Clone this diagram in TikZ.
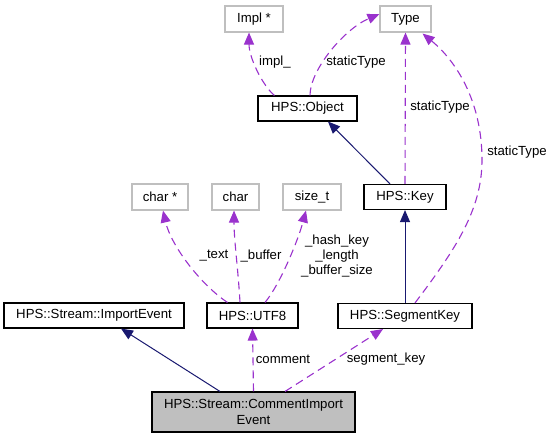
\documentclass[tikz,border=0pt]{standalone}
\usepackage{fontspec}
\setmainfont{Liberation Sans}
\usetikzlibrary{arrows.meta,calc}
\definecolor{dep}{HTML}{9A32CD}
\definecolor{inh}{HTML}{191970}
\definecolor{gbox}{HTML}{BFBFBF}
\tikzset{
  cls/.style={draw=black,line width=1.1pt,minimum height=25pt,inner sep=0pt,font=\fontsize{13.2}{15}\selectfont,fill=white},
  ext/.style={draw=gbox,line width=1.1pt,minimum height=26pt,inner sep=0pt,font=\fontsize{13.2}{15}\selectfont,fill=white},
  depline/.style={draw=dep,line width=1.1pt,dash pattern=on 8pt off 5pt,-{Triangle[length=12pt,width=10pt,fill=dep]}},
  inhline/.style={draw=inh,line width=1pt,-{Triangle[length=12pt,width=10pt,fill=inh]}},
  lbl/.style={font=\fontsize{13.2}{15}\selectfont,inner sep=0pt,align=center}
}
\begin{document}
\begin{tikzpicture}[x=1pt,y=-1pt]
\useasboundingbox (0,0) rectangle (553,439);
% nodes
\node[ext,minimum width=58pt] (impl) at (254,19) {Impl *};
\node[ext,minimum width=51pt] (type) at (405.5,19) {Type};
\node[cls,minimum width=99pt] (object) at (307.5,108.5) {HPS::Object};
\node[cls,minimum width=82pt] (key) at (405,197) {HPS::Key};
\node[ext,minimum width=58pt] (sizet) at (312,197) {size\_t};
\node[ext,minimum width=56pt] (charp) at (160,197) {char *};
\node[ext,minimum width=47pt] (char) at (235.5,197) {char};
\node[cls,minimum width=180pt] (importevent) at (94,315.5) {HPS::Stream::ImportEvent};
\node[cls,minimum width=91pt] (utf8) at (252.5,315.5) {HPS::UTF8};
\node[cls,minimum width=134pt] (segkey) at (405,316) {HPS::SegmentKey};
\node[cls,fill=gbox,minimum width=203pt,minimum height=40pt,align=center,font=\fontsize{13.2}{16}\selectfont] (cie) at (253.5,412) {HPS::Stream::CommentImport\\Event};
% edges
\draw[depline] ([xshift=17pt]object.north west) .. controls +(-12,-10) and +(0,25) .. ([xshift=-5pt]impl.south);
\node[lbl] (limpl) at (275,62) {impl\_};
\draw[depline] ([xshift=2.5pt]object.north) .. controls +(0,-26) and +(-35,15) .. ([yshift=5pt]type.west);
\node[lbl] (lst1) at (356,62) {staticType};
\draw[depline] (key.north) -- (type.south);
\node[lbl] (lst2) at (440,107) {staticType};
\draw[depline] ([xshift=10pt]segkey.north) .. controls (455,250) and (482,210) .. (482,160) .. controls (482,100) and (455,60) .. ([xshift=17pt,yshift=-1pt]type.south);
\node[lbl] (lst3) at (517,152) {staticType};
\draw[inhline] ([xshift=-15pt]key.north) -- ([xshift=20.5pt]object.south);
\draw[inhline] (segkey.north) -- (key.south);
\draw[depline] ([xshift=-25pt]utf8.north) .. controls +(-27,-18) and +(8,35) .. ([xshift=3pt]charp.south);
\node[lbl] (ltext) at (214,256) {\_text};
\draw[depline] ([xshift=-12.5pt]utf8.north) .. controls +(-2,-35) and +(0,30) .. ([xshift=-1.5pt]char.south);
\node[lbl] (lbuf) at (261,256) {\_buffer};
\draw[depline] ([xshift=12.5pt]utf8.north) .. controls +(15,-18) and +(-8,30) .. ([xshift=-6pt]sizet.south);
\node[lbl] (lhash) at (337,256) {\_hash\_key\\\_length\\\_buffer\_size};
\draw[inhline] ([xshift=-33.5pt]cie.north) -- ([xshift=27pt]importevent.south);
\draw[depline] (cie.north) -- (utf8.south);
\node[lbl] (lcomment) at (283,359) {comment};
\draw[depline] ([xshift=31.5pt]cie.north) -- ([xshift=-22pt]segkey.south);
\node[lbl] (lsegkey) at (386,359) {segment\_key};
\end{tikzpicture}
\end{document}
